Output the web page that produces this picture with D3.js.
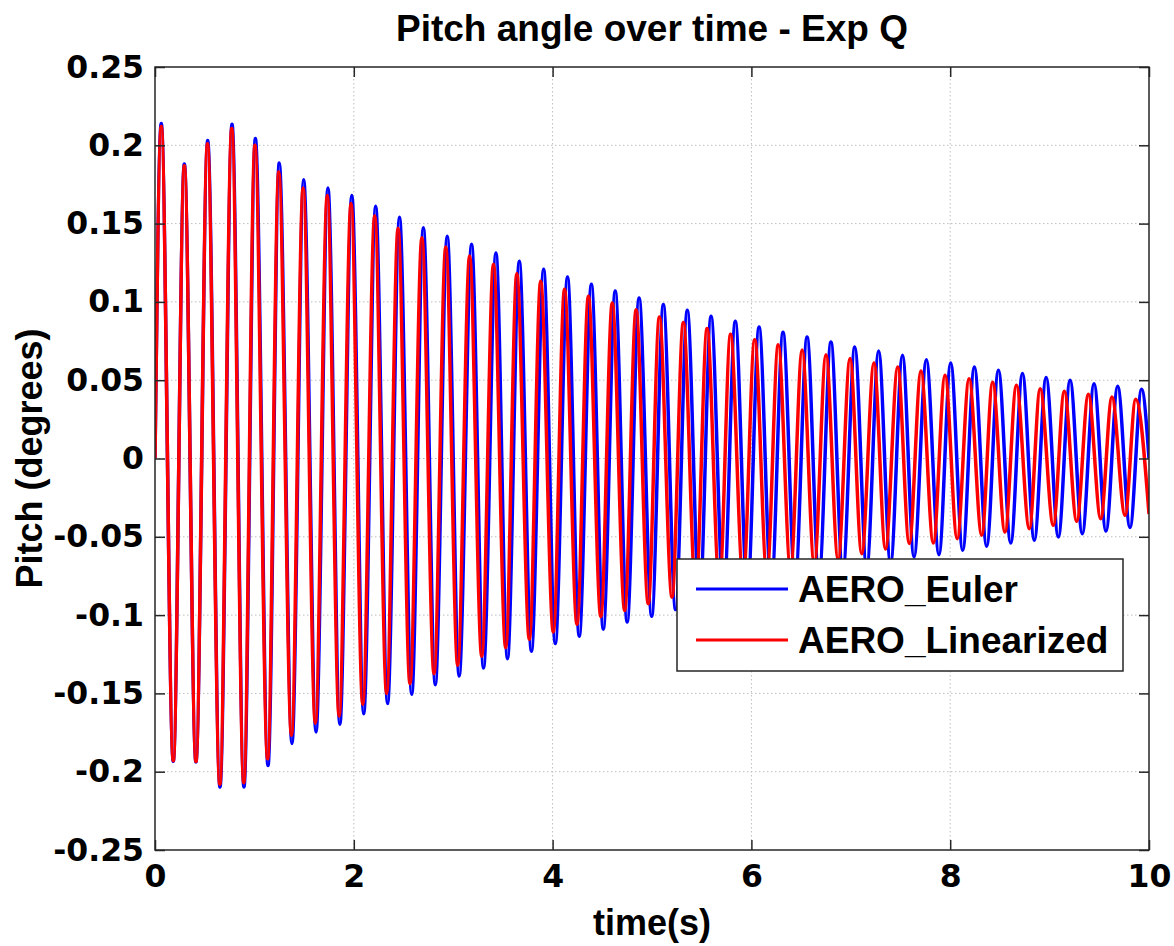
<!DOCTYPE html>
<html>
<head>
<meta charset="utf-8">
<script src="https://cdnjs.cloudflare.com/ajax/libs/d3/7.8.5/d3.min.js"></script>
<style>
    body { margin: 0; background: #fff; }
    #chart-area { width: 1174px; height: 946px; }
    .grid line { stroke: #bdbdbd; stroke-width: 1; stroke-dasharray: 1.5,2.5; }
    .tick-label { font-family: "DejaVu Sans", sans-serif; font-weight: bold; font-size: 31.5px; fill: #000; }
    .title, .axis-title, .legend-text { font-family: "Liberation Sans", Arial, sans-serif; font-weight: bold; fill: #000; }
</style>
</head>
<body>
<div id="chart-area"></div>
<script>

// peaks / troughs (time in s, pitch in degrees)
const eulerPeakTime = [0.063, 0.295, 0.53, 0.775, 1.01, 1.25, 1.496, 1.74, 1.98, 2.22, 2.46, 2.70, 2.94, 3.185,
    3.43, 3.665, 3.91, 4.15, 4.39, 4.63, 4.87, 5.114, 5.355, 5.594, 5.838, 6.077, 6.318, 6.56, 6.80, 7.04,
    7.28, 7.52, 7.76, 8.005, 8.243, 8.485, 8.727, 8.965, 9.206, 9.447, 9.685, 9.925];
const eulerPeakPitch = [0.214, 0.188, 0.203, 0.2134, 0.2043, 0.1887, 0.178, 0.1727, 0.168, 0.161, 0.154, 0.1474,
    0.142, 0.1368, 0.1312, 0.1259, 0.1208, 0.1159, 0.1112, 0.107, 0.1025, 0.0983, 0.0946, 0.0908, 0.0876,
    0.084, 0.0806, 0.0776, 0.0744, 0.0712, 0.0686, 0.0659, 0.0631, 0.061, 0.0584, 0.0563, 0.0542, 0.0517,
    0.05, 0.0478, 0.0461, 0.0442];
const eulerTroughTime = [0.184, 0.412, 0.654, 0.895, 1.137, 1.378, 1.62, 1.86, 2.10, 2.34, 2.583, 2.82, 3.06,
    3.305, 3.546, 3.787, 4.027, 4.268, 4.51, 4.75, 4.997, 5.237, 5.478, 5.72, 5.96, 6.2, 6.44, 6.68, 6.92,
    7.16, 7.40, 7.636, 7.887, 8.126, 8.367, 8.609, 8.846, 9.088, 9.329, 9.567, 9.809];
const eulerTroughPitch = [-0.1934, -0.1938, -0.2098, -0.2098, -0.196, -0.182, -0.1746, -0.1697, -0.163, -0.1565,
    -0.1506, -0.1444, -0.1389, -0.1338, -0.1278, -0.1231, -0.1182, -0.1135, -0.109, -0.1044, -0.1008, -0.0965,
    -0.093, -0.0893, -0.086, -0.0825, -0.079, -0.076, -0.0728, -0.0698, -0.067, -0.0629, -0.0614, -0.0586,
    -0.056, -0.054, -0.0522, -0.0501, -0.048, -0.0463, -0.0441];
const eulerEdgeTime = [0, 10];
const eulerEdgePitch = [0, 0.0];

const linPeakTime = [0.063, 0.295, 0.528, 0.772, 1.005, 1.245, 1.49, 1.733, 1.972, 2.21, 2.445, 2.685, 2.925,
    3.165, 3.405, 3.64, 3.88, 4.12, 4.36, 4.60, 4.84, 5.074, 5.315, 5.554, 5.79, 6.033, 6.27, 6.51, 6.75,
    6.992, 7.233, 7.472, 7.706, 7.948, 8.19, 8.427, 8.666, 8.905, 9.148, 9.39, 9.627, 9.866];
const linPeakPitch = [0.212, 0.187, 0.201, 0.2107, 0.2, 0.183, 0.1727, 0.168, 0.1628, 0.155, 0.147, 0.141, 0.135,
    0.1293, 0.124, 0.118, 0.1132, 0.108, 0.1036, 0.0993, 0.095, 0.0904, 0.0868, 0.083, 0.0793, 0.0759, 0.0727,
    0.0693, 0.0663, 0.0638, 0.061, 0.0584, 0.0559, 0.0531, 0.051, 0.0487, 0.0467, 0.0446, 0.0429, 0.041,
    0.0393, 0.0378];
const linTroughTime = [0.184, 0.412, 0.652, 0.893, 1.133, 1.373, 1.613, 1.852, 2.09, 2.33, 2.565, 2.807, 3.045,
    3.287, 3.528, 3.766, 4.007, 4.245, 4.485, 4.725, 4.962, 5.201, 5.44, 5.678, 5.917, 6.156, 6.394, 6.633,
    6.872, 7.11, 7.349, 7.588, 7.83, 8.07, 8.317, 8.551, 8.796, 9.037, 9.273, 9.514, 9.759];
const linTroughPitch = [-0.193, -0.1935, -0.208, -0.207, -0.1917, -0.1768, -0.169, -0.1645, -0.157, -0.150,
    -0.1438, -0.1374, -0.132, -0.1263, -0.1208, -0.1155, -0.1108, -0.1059, -0.101, -0.097, -0.0927, -0.0885,
    -0.085, -0.081, -0.0775, -0.074, -0.0708, -0.0675, -0.0645, -0.0608, -0.0578, -0.0543, -0.054, -0.0512,
    -0.049, -0.047, -0.0448, -0.0427, -0.0401, -0.0384, -0.0363];
const linEdgeTime = [0, 10];
const linEdgePitch = [0, -0.0355];

const xTicks = [0, 2, 4, 6, 8, 10];
const yTicks = [-0.25, -0.2, -0.15, -0.1, -0.05, 0, 0.05, 0.1, 0.15, 0.2, 0.25];
const seriesNames = ["AERO_Euler", "AERO_Linearized"];
const seriesColors = ["#0000ff", "#ff0000"];


class PitchVis {

    constructor(parentElement) {
        this.parentElement = parentElement;
        this.initVis();
    }

    initVis() {
        let vis = this;

        vis.margin = {top: 67, right: 25, bottom: 96, left: 155};
        vis.width = 1174 - vis.margin.left - vis.margin.right;
        vis.height = 946 - vis.margin.top - vis.margin.bottom;

        vis.root = d3.select("#" + vis.parentElement).append("svg")
            .attr("width", 1174)
            .attr("height", 946);

        vis.svg = vis.root.append("g")
            .attr("transform", "translate(" + vis.margin.left + "," + vis.margin.top + ")");

        vis.x = d3.scaleLinear().domain([0, 10]).range([0, vis.width]);
        vis.y = d3.scaleLinear().domain([-0.25, 0.25]).range([vis.height, 0]);

        // dotted grid
        vis.svg.append("g").attr("class", "grid")
            .selectAll("line.gx").data(xTicks.slice(1, -1)).enter().append("line")
            .attr("x1", d => vis.x(d)).attr("x2", d => vis.x(d))
            .attr("y1", 0).attr("y2", vis.height);
        vis.svg.append("g").attr("class", "grid")
            .selectAll("line.gy").data(yTicks.slice(1, -1)).enter().append("line")
            .attr("y1", d => vis.y(d)).attr("y2", d => vis.y(d))
            .attr("x1", 0).attr("x2", vis.width);

        vis.svg.append("clipPath").attr("id", "plot-clip")
            .append("rect").attr("width", vis.width).attr("height", vis.height);

        vis.wrangleData();
    }

    wrangleData() {
        let vis = this;

        function merge(pt, pv, tt, tv, et, ev) {
            let pts = [];
            pt.forEach((t, i) => pts.push({t: t, v: pv[i]}));
            tt.forEach((t, i) => pts.push({t: t, v: tv[i]}));
            et.forEach((t, i) => pts.push({t: t, v: ev[i]}));
            return pts.sort((a, b) => a.t - b.t);
        }

        vis.series = [
            merge(eulerPeakTime, eulerPeakPitch, eulerTroughTime, eulerTroughPitch, eulerEdgeTime, eulerEdgePitch),
            merge(linPeakTime, linPeakPitch, linTroughTime, linTroughPitch, linEdgeTime, linEdgePitch)
        ];

        vis.updateVis();
    }

    updateVis() {
        let vis = this;

        let line = d3.line()
            .x(d => vis.x(d.t))
            .y(d => vis.y(d.v))
            .curve(d3.curveMonotoneX);

        vis.svg.append("g").attr("clip-path", "url(#plot-clip)")
            .selectAll("path").data(vis.series).enter().append("path")
            .attr("d", d => line(d))
            .attr("fill", "none")
            .attr("stroke", (d, i) => seriesColors[i])
            .attr("stroke-width", 3.5)
            .attr("stroke-linejoin", "round");

        // axes: bottom/left with labels, top/right ticks only, all ticks inward
        let tickLen = 10;
        let xB = d3.axisBottom(vis.x).tickValues(xTicks).tickSize(-tickLen).tickPadding(15).tickFormat(d3.format("d"));
        let xT = d3.axisTop(vis.x).tickValues(xTicks).tickSize(-tickLen).tickFormat("");
        let yL = d3.axisLeft(vis.y).tickValues(yTicks).tickSize(-tickLen).tickPadding(11)
            .tickFormat(d => String(+d.toFixed(2)));
        let yR = d3.axisRight(vis.y).tickValues(yTicks).tickSize(-tickLen).tickFormat("");

        let gx = vis.svg.append("g").attr("transform", "translate(0," + vis.height + ")").call(xB);
        vis.svg.append("g").call(xT);
        let gy = vis.svg.append("g").call(yL);
        vis.svg.append("g").attr("transform", "translate(" + vis.width + ",0)").call(yR);

        vis.svg.selectAll(".domain").remove();
        vis.svg.selectAll(".tick line").attr("stroke", "#262626").attr("stroke-width", 1.5);
        gx.selectAll("text").attr("class", "tick-label").attr("dy", "0.71em").attr("fill", null);
        gy.selectAll("text").attr("class", "tick-label").attr("fill", null);

        vis.svg.append("rect")
            .attr("width", vis.width).attr("height", vis.height)
            .attr("fill", "none").attr("stroke", "#262626").attr("stroke-width", 1.5);

        // titles
        vis.root.append("text").attr("class", "title")
            .attr("x", vis.margin.left + vis.width / 2).attr("y", 41)
            .attr("text-anchor", "middle").style("font-size", "37px")
            .text("Pitch angle over time - Exp Q");

        vis.root.append("text").attr("class", "axis-title")
            .attr("x", vis.margin.left + vis.width / 2).attr("y", 935)
            .attr("text-anchor", "middle").style("font-size", "36px")
            .text("time(s)");

        vis.root.append("text").attr("class", "axis-title")
            .attr("transform", "translate(42," + (vis.margin.top + vis.height / 2) + ") rotate(-90)")
            .attr("text-anchor", "middle").style("font-size", "36px")
            .text("Pitch (degrees)");

        // legend
        let lg = vis.root.append("g").attr("transform", "translate(677,559)");
        lg.append("rect").attr("width", 446).attr("height", 112)
            .attr("fill", "#fff").attr("stroke", "#262626").attr("stroke-width", 1.5);
        let items = lg.selectAll("g.item").data(seriesNames).enter().append("g")
            .attr("transform", (d, i) => "translate(0," + (30 + i * 51) + ")");
        items.append("line").attr("x1", 19).attr("x2", 111)
            .attr("stroke", (d, i) => seriesColors[i]).attr("stroke-width", 3);
        items.append("text").attr("class", "legend-text")
            .attr("x", 121).attr("y", 13).style("font-size", "37px")
            .text(d => d);
    }
}

new PitchVis("chart-area");
</script>
</body>
</html>
